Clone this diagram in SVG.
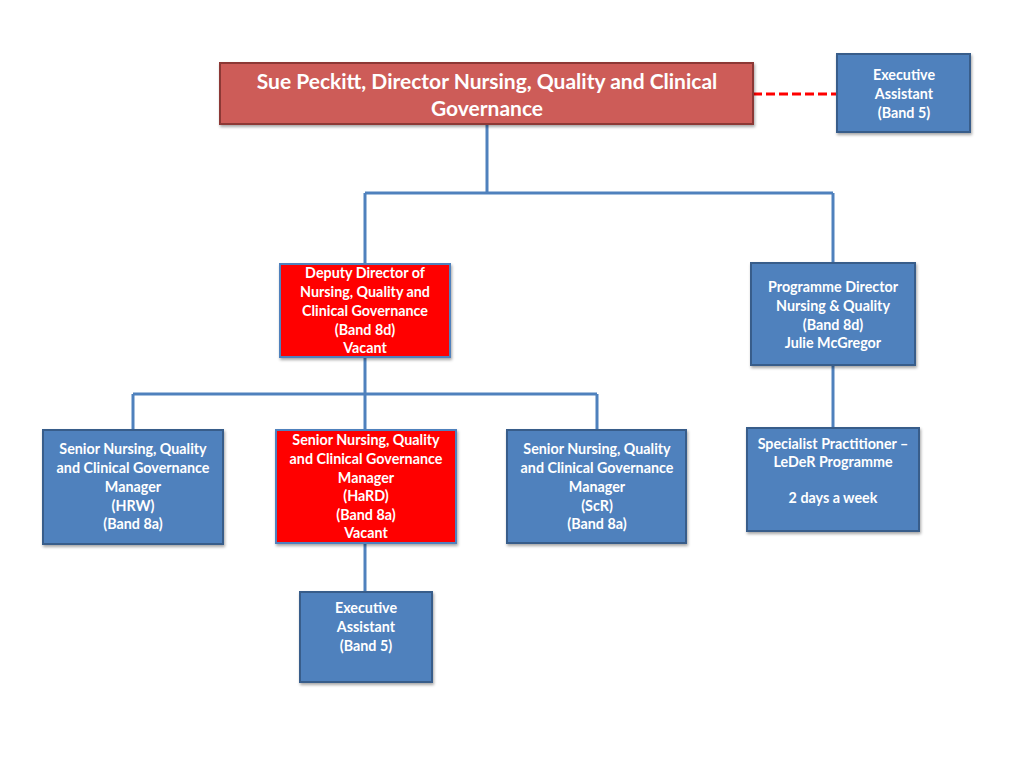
<svg xmlns="http://www.w3.org/2000/svg" width="1024" height="768" viewBox="0 0 1024 768">
<defs>
<filter id="sh" x="-10%" y="-10%" width="130%" height="140%">
<feDropShadow dx="1" dy="2" stdDeviation="1.5" flood-color="#000" flood-opacity="0.35"/>
</filter>
<style>
.blue{fill:#4f81bd;stroke:#385d8a;stroke-width:2;filter:url(#sh)}
.red{fill:#ff0000;stroke:#4f81bd;stroke-width:2;filter:url(#sh)}
.top{fill:#cd5b58;stroke:#8c3836;stroke-width:2;filter:url(#sh)}
text{font-family:Lato,"Open Sans","Liberation Sans",sans-serif;font-weight:bold;fill:#fff;text-anchor:middle}
.t{font-size:14.3px}
.big{font-size:21px}
.conn{fill:none;stroke:#4f81bd;stroke-width:3}
.dash{fill:none;stroke:#ff0000;stroke-width:3;stroke-dasharray:9,4}
</style>
</defs>
<rect width="1024" height="768" fill="#fff"/>
<g id="connectors">
<path class="conn" d="M487,124 V193 M365,193 H833 M365,193 V264 M833,193 V263"/>
<path class="conn" d="M365,357 V394 M133,394 H597 M133,394 V430 M365,394 V430 M597,394 V430"/>
<path class="conn" d="M833,365 V428"/>
<path class="conn" d="M365,543 V592"/>
<path class="dash" d="M753,94 H837"/>
</g>
<g id="director">
<rect class="top" x="220" y="63" width="533" height="61"/>
<text class="big" x="487" y="89">Sue Peckitt, Director Nursing, Quality and Clinical</text>
<text class="big" x="487" y="116">Governance</text>
</g>
<g id="exec-top">
<rect class="blue" x="837" y="54" width="133" height="78"/>
<text class="t" x="904" y="80">Executive</text>
<text class="t" x="904" y="99">Assistant</text>
<text class="t" x="904" y="118">(Band 5)</text>
</g>
<g id="deputy">
<rect class="red" x="280" y="264" width="170" height="93"/>
<text class="t" x="365" y="278">Deputy Director of</text>
<text class="t" x="365" y="297">Nursing, Quality and</text>
<text class="t" x="365" y="316">Clinical Governance</text>
<text class="t" x="365" y="335">(Band 8d)</text>
<text class="t" x="365" y="353">Vacant</text>
</g>
<g id="programme">
<rect class="blue" x="751" y="263" width="164" height="102"/>
<text class="t" x="833" y="292">Programme Director</text>
<text class="t" x="833" y="311">Nursing &amp; Quality</text>
<text class="t" x="833" y="330">(Band 8d)</text>
<text class="t" x="833" y="348">Julie McGregor</text>
</g>
<g id="hrw">
<rect class="blue" x="43" y="430" width="180" height="114"/>
<text class="t" x="133" y="454">Senior Nursing, Quality</text>
<text class="t" x="133" y="473">and Clinical Governance</text>
<text class="t" x="133" y="492">Manager</text>
<text class="t" x="133" y="511">(HRW)</text>
<text class="t" x="133" y="529">(Band 8a)</text>
</g>
<g id="hard">
<rect class="red" x="276" y="430" width="180" height="113"/>
<text class="t" x="366" y="445">Senior Nursing, Quality</text>
<text class="t" x="366" y="464">and Clinical Governance</text>
<text class="t" x="366" y="483">Manager</text>
<text class="t" x="366" y="501">(HaRD)</text>
<text class="t" x="366" y="520">(Band 8a)</text>
<text class="t" x="366" y="538">Vacant</text>
</g>
<g id="scr">
<rect class="blue" x="507" y="430" width="179" height="113"/>
<text class="t" x="597" y="454">Senior Nursing, Quality</text>
<text class="t" x="597" y="473">and Clinical Governance</text>
<text class="t" x="597" y="492">Manager</text>
<text class="t" x="597" y="511">(ScR)</text>
<text class="t" x="597" y="529">(Band 8a)</text>
</g>
<g id="specialist">
<rect class="blue" x="747" y="428" width="172" height="103"/>
<text class="t" x="833" y="449">Specialist Practitioner –</text>
<text class="t" x="833" y="467">LeDeR Programme</text>
<text class="t" x="833" y="503">2 days a week</text>
</g>
<g id="exec-bottom">
<rect class="blue" x="300" y="592" width="132" height="90"/>
<text class="t" x="366" y="613">Executive</text>
<text class="t" x="366" y="632">Assistant</text>
<text class="t" x="366" y="651">(Band 5)</text>
</g>
</svg>
